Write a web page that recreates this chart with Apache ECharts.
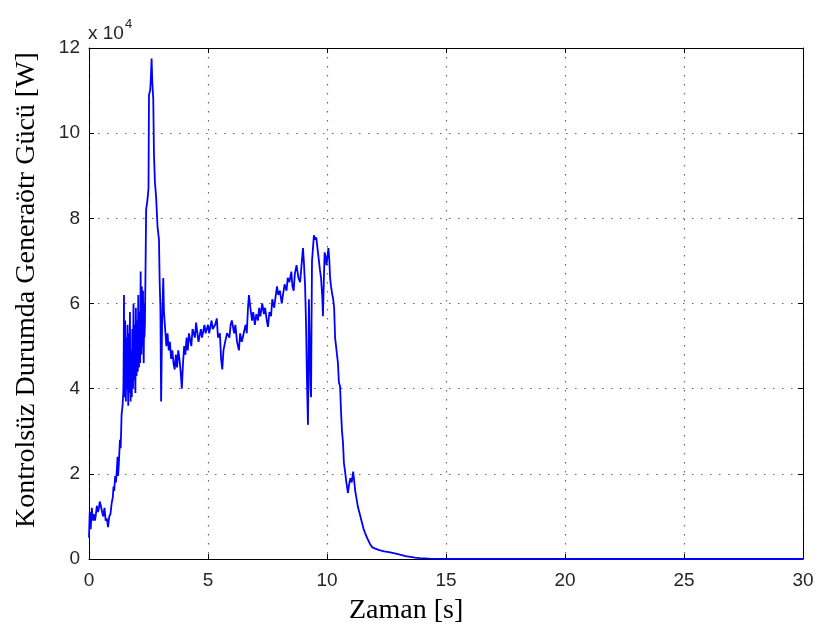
<!DOCTYPE html>
<html>
<head>
<meta charset="utf-8">
<script src="https://cdn.jsdelivr.net/npm/echarts@6/dist/echarts.min.js"></script>
<style>
html,body{margin:0;padding:0;background:#fff;}
#chart{width:819px;height:643px;}
</style>
</head>
<body>
<div id="chart"></div>
<script>
// Time [s] and generator power [x 1e4 W]
const xTicks = [0, 5, 10, 15, 20, 25, 30];
const yTicks = [0, 2, 4, 6, 8, 10, 12];

const rampUp = [
  [0,0.5],[0.03,1.1],[0.05,0.8],[0.07,0.7],[0.1,1.0],[0.12,1.2],[0.15,0.95],[0.17,0.9],[0.22,1.05],
  [0.25,0.9],[0.28,1.0],[0.33,1.25],[0.38,1.1],[0.42,1.2],[0.45,1.35],[0.5,1.25],[0.55,1.1],
  [0.6,1.0],[0.65,1.2],[0.7,0.9],[0.75,0.95],[0.8,0.75],[0.85,1.0],[0.9,1.05],[0.95,1.3],
  [1.0,1.45],[1.03,1.7],[1.06,1.6],[1.1,1.95],[1.13,1.8],[1.17,2.1],[1.2,2.4],[1.22,1.95],
  [1.25,2.2],[1.3,2.8],[1.33,2.6],[1.37,3.4],[1.41,3.6],[1.44,3.9]
];

const firstBurst = [
  [1.45,4.2],[1.46,5.0],[1.47,6.2],[1.48,4.6],[1.5,3.8],[1.51,4.9],[1.52,5.6],[1.53,4.3],
  [1.55,3.7],[1.56,4.8],[1.57,5.2],[1.58,4.1],[1.6,4.0],[1.61,5.1],[1.62,5.5],[1.63,4.2],
  [1.65,3.6],[1.66,4.7],[1.67,5.3],[1.68,4.4],[1.7,3.9],[1.71,5.0],[1.72,5.8],[1.73,4.5],
  [1.75,3.7],[1.76,4.6],[1.77,4.9],[1.78,3.9],[1.8,3.8],[1.81,4.8],[1.82,5.4],[1.83,4.3],
  [1.85,4.0],[1.86,5.2],[1.87,6.0],[1.88,4.7],[1.9,4.2],[1.91,5.0],[1.92,5.5],[1.93,4.4],
  [1.95,3.9],[1.96,5.1],[1.97,5.9],[1.98,4.8],[2.0,4.3],[2.01,5.2],[2.02,5.6],[2.03,4.6],
  [2.05,4.4],[2.06,5.5],[2.07,6.2],[2.08,5.0],[2.1,4.5],[2.11,5.3],[2.12,5.8],[2.13,4.9],
  [2.15,4.6],[2.16,5.7],[2.17,6.75],[2.18,5.2],[2.2,4.8],[2.21,5.6],[2.22,6.4],[2.23,5.3],
  [2.25,5.0],[2.26,5.8],[2.27,6.3],[2.28,5.1],[2.3,4.6],[2.31,5.4],[2.32,6.0],[2.33,5.2],
  [2.35,5.5],[2.36,6.1],[2.37,6.5]
];

const mainPeak = [
  [2.4,8.2],[2.45,8.4],[2.5,8.7],[2.52,10.9],[2.57,11.0],[2.6,11.3],[2.63,11.75],[2.66,11.2],
  [2.7,10.8],[2.73,9.5],[2.77,8.85],[2.82,8.5],[2.88,7.8],[2.94,7.5],[2.97,6.5],[3.0,5.9],
  [3.03,3.7],[3.07,5.5],[3.12,6.6],[3.15,5.8],[3.2,5.4],[3.25,5.0],[3.3,5.3],[3.35,4.9],
  [3.4,5.1],[3.45,4.7],[3.5,4.9],[3.55,4.6],[3.6,4.45],[3.65,4.8],[3.7,4.5],[3.75,4.9],
  [3.8,4.7],[3.85,4.4],[3.9,4.0],[3.95,4.6],[4.0,5.0],[4.05,4.8]
];

const plateau = [
  [4.1,5.2],[4.15,4.9],[4.2,5.3],[4.3,5.0],[4.35,5.4],[4.45,5.2],[4.5,5.55],[4.6,5.1],
  [4.7,5.4],[4.75,5.2],[4.85,5.5],[4.9,5.3],[5.0,5.5],[5.05,5.3],[5.15,5.6],[5.2,5.4],
  [5.3,5.5],[5.37,5.65],[5.42,5.2],[5.5,5.3],[5.55,4.7],[5.6,4.45],[5.65,4.9],[5.72,5.1],
  [5.8,5.3],[5.9,5.2],[5.95,5.5],[6.0,5.6],[6.1,5.3],[6.15,5.5],[6.22,5.1],[6.3,4.9],
  [6.35,5.3],[6.42,5.1],[6.5,5.3],[6.58,5.5],[6.63,5.3],[6.68,5.9],[6.72,6.2],[6.78,5.9],
  [6.85,5.6],[6.9,5.8],[6.97,5.5],[7.03,5.75],[7.1,5.6],[7.15,5.9],[7.2,5.7],[7.28,6.0],
  [7.35,5.75],[7.4,5.9],[7.47,5.6],[7.52,5.45],[7.58,5.8],[7.65,5.7],[7.7,6.1],[7.78,5.9],
  [7.85,6.2],[7.9,6.4],[7.95,6.2],[8.02,6.3],[8.1,6.0],[8.15,6.2],[8.22,6.45],[8.3,6.3],
  [8.35,6.6],[8.42,6.5],[8.5,6.75],[8.55,6.4],[8.6,6.3],[8.65,6.7],[8.72,6.9],[8.8,6.6],
  [8.87,6.5],[8.93,6.9],[8.99,7.3],[9.03,6.96],[9.08,6.4]
];

const secondBurst = [
  [9.12,5.5],[9.16,4.15],[9.2,3.15],[9.22,4.4],[9.24,6.1],[9.27,5.2],[9.29,4.6],[9.31,4.0],
  [9.33,3.8],[9.35,5.5],[9.37,7.0],[9.41,7.3],[9.45,7.6],[9.5,7.5],[9.55,7.55],[9.58,7.4],
  [9.62,7.2],[9.66,7.0],[9.7,6.8],[9.75,6.6],[9.8,6.17],[9.83,5.7],[9.86,6.4],[9.9,7.2],
  [9.94,7.1],[9.98,6.9],[10.02,7.1],[10.06,7.3],[10.1,7.0],[10.13,6.6],[10.17,6.4],[10.21,6.25],
  [10.26,6.1],[10.3,5.9],[10.34,5.2],[10.38,5.0],[10.42,4.8],[10.46,4.6],[10.5,4.15],[10.55,4.05],
  [10.59,3.45],[10.63,3.0],[10.67,2.75],[10.71,2.26]
];

const decay = [
  [10.76,2.05],[10.8,1.86],[10.84,1.7],[10.88,1.55],[10.93,1.75],[10.98,1.9],[11.04,1.8],[11.1,2.05],
  [11.14,1.85],[11.18,1.62],[11.24,1.42],[11.3,1.22],[11.38,1.05],[11.47,0.85],[11.53,0.72],[11.6,0.61],
  [11.7,0.48],[11.8,0.36],[11.89,0.28],[12.0,0.25],[12.2,0.21],[12.4,0.18],[12.6,0.16],[12.85,0.13],
  [13.07,0.1],[13.3,0.07],[13.5,0.05],[13.7,0.03],[13.9,0.02],[14.3,0.01],[14.75,0.005],[15.5,0.002],
  [18,0.001],[22,0],[30,0]
];

const xName = 'Zaman [s]';
const yName = 'Kontrolsüz Durumda Generaötr Gücü [W]';

const samples = [].concat(rampUp, firstBurst, mainPeak, plateau, secondBurst, decay);

const chart = echarts.init(document.getElementById('chart'), null, {renderer: 'canvas'});
const tickFont = 'Liberation Sans, Arial, sans-serif';
const serif = 'Liberation Serif, Times New Roman, serif';

function axisCommon(showLabels) {
  return {
    axisLine: {show: true, onZero: false, lineStyle: {color: '#000', width: 1}},
    axisTick: {show: true, inside: true, length: 5, lineStyle: {color: '#000'}},
    axisLabel: {show: showLabels, color: '#262626', fontSize: 19, fontFamily: tickFont},
    splitLine: {show: false}
  };
}

const gridLine = {show: true, lineStyle: {color: '#666', type: [1.5, 7.5], width: 1.2}};

chart.setOption({
  animation: false,
  backgroundColor: '#fff',
  grid: {left: 89, right: 16, top: 48, bottom: 84, containLabel: false},
  xAxis: [
    Object.assign(axisCommon(true), {
      type: 'value', position: 'bottom', min: xTicks[0], max: xTicks[xTicks.length-1], interval: 5,
      axisLabel: {color: '#262626', fontSize: 19, fontFamily: tickFont, margin: 12},
      splitLine: gridLine
    }),
    Object.assign(axisCommon(false), {
      type: 'value', position: 'top', min: xTicks[0], max: xTicks[xTicks.length-1], interval: 5
    })
  ],
  yAxis: [
    Object.assign(axisCommon(true), {
      type: 'value', position: 'left', min: yTicks[0], max: yTicks[yTicks.length-1], interval: 2,
      axisLabel: {color: '#262626', fontSize: 19, fontFamily: tickFont, margin: 9},
      splitLine: gridLine
    }),
    Object.assign(axisCommon(false), {
      type: 'value', position: 'right', min: yTicks[0], max: yTicks[yTicks.length-1], interval: 2
    })
  ],
  graphic: [
    {
      type: 'text', left: 349, top: 597,
      style: {text: xName, font: '28px ' + serif, fill: '#000'}
    },
    {
      type: 'text', x: 13, y: 290, rotation: Math.PI / 2,
      style: {text: yName, font: '28px ' + serif, fill: '#000', align: 'center', verticalAlign: 'top'}
    },
    {
      type: 'text', left: 88, top: 18,
      style: {
        text: '{a|x 10}{b|4}',
        rich: {
          a: {fontSize: 19, fontFamily: tickFont, fill: '#262626', verticalAlign: 'bottom'},
          b: {fontSize: 13, fontFamily: tickFont, fill: '#262626', verticalAlign: 'top', padding: [0,0,12,1]}
        }
      }
    }
  ],
  series: [{
    type: 'line',
    xAxisIndex: 0, yAxisIndex: 0,
    data: samples,
    showSymbol: false,
    symbol: 'none',
    lineStyle: {color: '#0000ff', width: 1.8},
    clip: true
  }]
});
</script>
</body>
</html>
